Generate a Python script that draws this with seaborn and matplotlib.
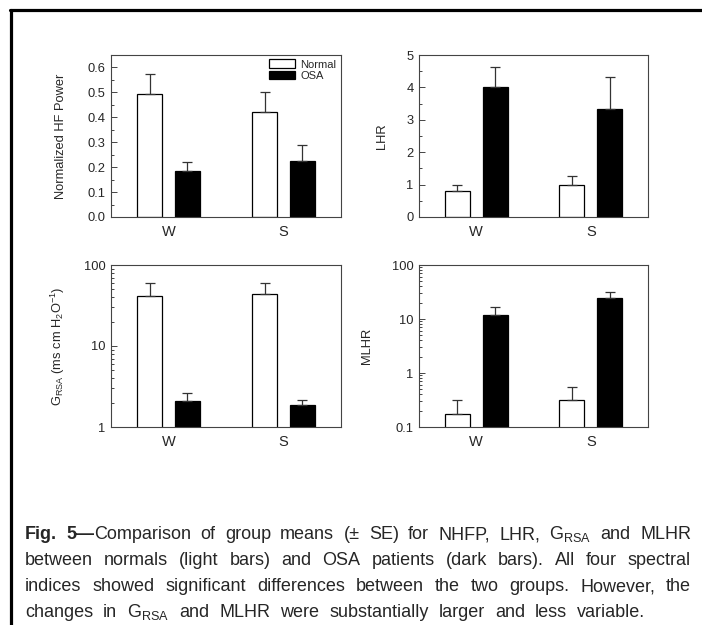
import numpy as np
import pandas as pd
import matplotlib
matplotlib.use("Agg")
import matplotlib.pyplot as plt
import seaborn as sns
from matplotlib.lines import Line2D
from matplotlib.ticker import MultipleLocator, LogLocator, NullFormatter, FormatStrFormatter

# ---- data (group means and upper SE) ----
conditions = ["W", "S"]
groups = ["Normal", "OSA"]

nhfp_normal = [0.495, 0.42]
nhfp_osa = [0.185, 0.225]
nhfp_se_normal = [0.08, 0.08]
nhfp_se_osa = [0.035, 0.065]

lhr_normal = [0.8, 1.0]
lhr_osa = [4.0, 3.33]
lhr_se_normal = [0.2, 0.28]
lhr_se_osa = [0.62, 0.99]

grsa_normal = [41.4, 43.4]
grsa_osa = [2.12, 1.89]
grsa_se_normal = [18.5, 16.9]
grsa_se_osa = [0.51, 0.29]

mlhr_normal = [0.176, 0.316]
mlhr_osa = [11.8, 24.2]
mlhr_se_normal = [0.14, 0.234]
mlhr_se_osa = [4.7, 8.0]

caption_lines = [
    [[("Fig.", "bold")], [("5\u2014", "bold"), ("Comparison", "normal")], "of", "group", "means",
     "(\u00b1", "SE)", "for", "NHFP,", "LHR,", r"G$_\mathregular{RSA}$", "and", "MLHR"],
    ["between", "normals", "(light", "bars)", "and", "OSA", "patients", "(dark", "bars).", "All",
     "four", "spectral"],
    ["indices", "showed", "significant", "differences", "between", "the", "two", "groups.",
     "However,", "the"],
    ["changes", "in", r"G$_\mathregular{RSA}$", "and", "MLHR", "were", "substantially", "larger",
     "and", "less", "variable."],
]

sns.set_style("white")
plt.rcParams['font.family'] = ['Liberation Sans', 'DejaVu Sans']
plt.rcParams['mathtext.default'] = 'regular'

W, H = 702, 625
fig = plt.figure(figsize=(W / 100, H / 100), dpi=100)


def px_axes(left, top, right, bottom):
    return fig.add_axes([left / W, 1 - bottom / H, (right - left) / W, (bottom - top) / H])


def draw_panel(ax, normal, osa, se_normal, se_osa, ylabel, ylim, log=False, legend=False,
               label_x=-0.2):
    df = pd.DataFrame({
        "cond": conditions * 2,
        "group": [groups[0]] * 2 + [groups[1]] * 2,
        "value": list(normal) + list(osa),
    })
    sns.barplot(data=df, x="cond", y="value", hue="group", order=conditions, hue_order=groups,
                palette={"Normal": "white", "OSA": "black"}, edgecolor="black", linewidth=0.9,
                width=0.66, gap=0.34, errorbar=None, legend=legend, ax=ax)
    # upper error bars only
    for cont, se in zip(ax.containers, [se_normal, se_osa]):
        for bar, e in zip(cont, se):
            x = bar.get_x() + bar.get_width() / 2
            ax.errorbar(x, bar.get_height(), yerr=[[0], [e]], fmt="none", ecolor="#333333",
                        elinewidth=0.9, capsize=3.5, capthick=0.9, zorder=1)
    if log:
        ax.set_yscale("log")
        ax.yaxis.set_major_locator(LogLocator(base=10))
        ax.yaxis.set_minor_locator(LogLocator(base=10, subs=np.arange(2, 10)))
        ax.yaxis.set_minor_formatter(NullFormatter())
        ax.yaxis.set_major_formatter(FormatStrFormatter("%g"))
    ax.set_ylim(*ylim)
    ax.set_xlim(-0.5, 1.5)
    ax.set_xlabel("")
    ax.set_ylabel(ylabel, fontsize=9.3)
    ax.yaxis.set_label_coords(label_x, 0.5)
    for sp in ax.spines.values():
        sp.set_color("#444444")
        sp.set_linewidth(0.8)
    ax.tick_params(axis="y", which="both", direction="in", left=True, right=False,
                   labelsize=9.3, color="#444444", width=0.7, pad=4)
    ax.tick_params(axis="y", which="major", length=4)
    ax.tick_params(axis="y", which="minor", length=2.5)
    ax.tick_params(axis="x", bottom=False, labelsize=10.5, pad=2)
    if legend:
        sns.move_legend(ax, "upper right", bbox_to_anchor=(1.0, 1.0), frameon=False, title=None,
                        fontsize=8, handlelength=2.3, handleheight=0.8, handletextpad=0.5,
                        labelspacing=0.1, borderaxespad=0.2, borderpad=0.2)


ax1 = px_axes(111, 55, 341, 217)
draw_panel(ax1, nhfp_normal, nhfp_osa, nhfp_se_normal, nhfp_se_osa,
           "Normalized HF Power", (0, 0.65), legend=True, label_x=-0.19)
ax1.yaxis.set_major_locator(MultipleLocator(0.1))
ax1.yaxis.set_minor_locator(MultipleLocator(0.05))
ax1.yaxis.set_major_formatter(FormatStrFormatter("%.1f"))

ax2 = px_axes(419, 55, 648, 217)
draw_panel(ax2, lhr_normal, lhr_osa, lhr_se_normal, lhr_se_osa, "LHR", (0, 5), label_x=-0.135)
ax2.yaxis.set_major_locator(MultipleLocator(1))
ax2.yaxis.set_minor_locator(MultipleLocator(0.5))

ax3 = px_axes(111, 265, 341, 427)
draw_panel(ax3, grsa_normal, grsa_osa, grsa_se_normal, grsa_se_osa,
           r"G$_\mathregular{RSA}$ (ms cm H$_2$O$^{-1}$)", (1, 100), log=True, label_x=-0.19)

ax4 = px_axes(419, 265, 648, 427)
draw_panel(ax4, mlhr_normal, mlhr_osa, mlhr_se_normal, mlhr_se_osa, "MLHR", (0.1, 100),
           log=True, label_x=-0.2)

# frame lines of the figure box
fig.add_artist(Line2D([10 / W, 1], [1 - 10 / H, 1 - 10 / H], color="black", lw=2.3))
fig.add_artist(Line2D([11 / W, 11 / W], [0, 1 - 10 / H], color="black", lw=2.3))

# ---- caption, justified ----
cap_family = ['Liberation Sans Narrow', 'Liberation Sans', 'DejaVu Sans']
cap_size = 13
renderer = fig.canvas.get_renderer()
x_left, x_right = 25, 691
baselines = [539, 565, 591, 617]
last_gap = 10

for i, (line, yb) in enumerate(zip(caption_lines, baselines)):
    words = []
    for w in line:
        segs = [(w, "normal")] if isinstance(w, str) else w
        texts = []
        width = 0
        for s, wt in segs:
            t = fig.text(0, 0, s, family=cap_family, fontsize=cap_size, fontweight=wt,
                         va="baseline", ha="left")
            texts.append((t, width))
            width += t.get_window_extent(renderer).width
        words.append((texts, width))
    total = sum(w for _, w in words)
    if i < len(caption_lines) - 1:
        gap = (x_right - x_left - total) / (len(words) - 1)
    else:
        gap = last_gap
    x = x_left
    for texts, wdt in words:
        for t, off in texts:
            t.set_position(((x + off) / W, 1 - yb / H))
        x += wdt + gap

fig.savefig("out.png", dpi=100)
